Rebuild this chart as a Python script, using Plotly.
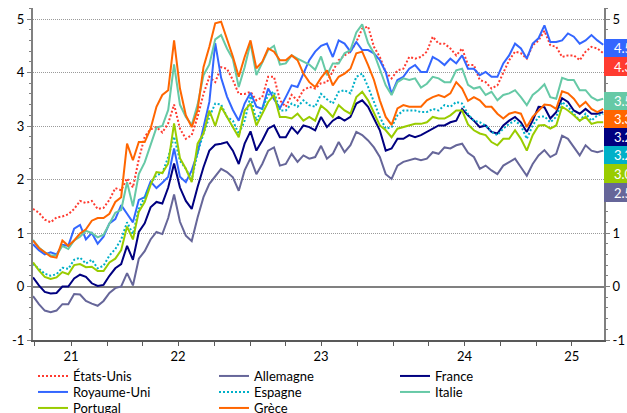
import pandas as pd
import plotly.graph_objects as go

# Dates: one point every 15 days from late June 2021
dates = pd.date_range("2021-06-26", periods=98, freq="15D")

etats_unis = [1.45, 1.38, 1.25, 1.2, 1.29, 1.31, 1.35, 1.45, 1.6, 1.56, 1.6, 1.45, 1.47, 1.62, 1.84, 1.8, 2.02, 1.85, 2.38, 2.8, 2.94, 2.98, 2.88, 3.05, 3.4, 2.95,
              2.76, 2.83, 3.17, 3.6, 3.92, 3.82, 4.1, 4.07, 3.86, 3.6, 3.6, 3.64, 3.48, 3.54, 3.92, 3.92, 3.48, 3.36, 3.58, 3.48, 3.67, 3.73, 3.7, 3.8,
              3.82, 4.04, 4.23, 4.32, 4.39, 4.57, 4.82, 4.86, 4.48, 4.29, 4.01, 3.89, 4.04, 4.07, 4.29, 4.26, 4.29, 4.39, 4.67, 4.54, 4.54, 4.45, 4.32, 4.45, 4.14,
              4.14, 3.86, 3.82, 3.7, 3.76, 3.98, 4.23, 4.39, 4.36, 4.26, 4.51, 4.6, 4.78, 4.51, 4.48, 4.29, 4.32, 4.32, 4.23, 4.39, 4.48, 4.45, 4.36]

royaume_uni = [0.79, 0.68, 0.6, 0.64, 0.6, 0.78, 0.76, 1.08, 1.15, 0.88, 1.0, 0.8, 0.93, 1.18, 1.26, 1.52, 1.36, 1.2, 1.62, 1.67, 1.96, 1.84, 1.94, 2.05, 2.58, 2.05,
               1.95, 2.17, 2.5, 3.0, 3.45, 4.55, 3.9, 3.55, 3.3, 3.1, 3.42, 3.62, 3.36, 3.32, 3.7, 3.5, 3.33, 3.54, 3.76, 3.73, 3.98, 4.23, 4.39, 4.5,
               4.54, 4.29, 4.6, 4.54, 4.39, 4.57, 4.42, 4.42, 4.36, 4.23, 4.01, 3.6, 3.86, 3.92, 4.07, 4.14, 4.01, 4.01, 4.29, 4.23, 4.14, 4.26, 4.17, 4.32, 4.07,
               4.07, 3.95, 4.01, 3.92, 3.92, 4.17, 4.32, 4.54, 4.45, 4.26, 4.54, 4.64, 4.88, 4.57, 4.57, 4.6, 4.73, 4.67, 4.54, 4.6, 4.7, 4.6, 4.52]

allemagne = [-0.18, -0.33, -0.45, -0.48, -0.45, -0.33, -0.33, -0.14, -0.15, -0.27, -0.32, -0.36, -0.27, -0.12, -0.03, 0.0, 0.25, 0.02, 0.52, 0.66, 0.88, 1.02, 0.98, 1.28, 1.72, 1.21,
             0.95, 0.85, 1.29, 1.67, 1.92, 2.05, 2.2, 2.14, 2.04, 1.79, 2.17, 2.4, 2.1, 2.29, 2.54, 2.6, 2.26, 2.29, 2.48, 2.33, 2.45, 2.39, 2.42, 2.63,
             2.39, 2.48, 2.7, 2.51, 2.64, 2.89, 2.83, 2.73, 2.6, 2.42, 2.1, 2.01, 2.26, 2.33, 2.36, 2.39, 2.36, 2.39, 2.51, 2.48, 2.6, 2.58, 2.64, 2.67, 2.5,
             2.42, 2.2, 2.26, 2.17, 2.1, 2.26, 2.33, 2.39, 2.23, 2.07, 2.29, 2.45, 2.55, 2.42, 2.48, 2.82, 2.76, 2.6, 2.45, 2.64, 2.54, 2.51, 2.54]

france = [0.17, 0.02, -0.1, -0.13, -0.12, 0.0, 0.0, 0.15, 0.22, 0.18, 0.06, 0.01, 0.03, 0.2, 0.34, 0.42, 0.76, 0.5, 1.02, 1.18, 1.48, 1.58, 1.55, 1.85, 2.3, 1.85,
          1.6, 1.45, 1.86, 2.23, 2.54, 2.65, 2.67, 2.7, 2.54, 2.29, 2.67, 2.9, 2.54, 2.73, 2.95, 3.01, 2.79, 2.79, 2.98, 2.86, 3.01, 2.98, 2.92, 3.17,
          2.98, 3.1, 3.17, 3.1, 3.17, 3.42, 3.48, 3.36, 3.14, 2.92, 2.54, 2.58, 2.76, 2.76, 2.83, 2.79, 2.83, 2.89, 2.95, 3.01, 3.01, 3.07, 3.1, 3.32, 3.2,
          3.1, 2.98, 3.01, 2.89, 2.86, 3.01, 3.1, 3.17, 3.07, 2.89, 3.1, 3.36, 3.35, 3.14, 3.26, 3.52, 3.45, 3.29, 3.23, 3.32, 3.23, 3.23, 3.26]

espagne = [0.42, 0.33, 0.24, 0.2, 0.23, 0.35, 0.33, 0.5, 0.54, 0.43, 0.5, 0.34, 0.39, 0.58, 0.7, 0.88, 1.2, 0.98, 1.45, 1.67, 1.92, 2.08, 2.12, 2.42, 2.8, 2.35,
           2.2, 2.0, 2.5, 2.86, 3.17, 3.42, 3.4, 3.17, 3.1, 2.85, 3.1, 3.56, 3.1, 3.32, 3.58, 3.64, 3.29, 3.29, 3.42, 3.36, 3.48, 3.39, 3.36, 3.6,
           3.5, 3.42, 3.64, 3.67, 3.61, 3.92, 3.98, 3.73, 3.45, 3.17, 2.95, 2.98, 3.2, 3.29, 3.29, 3.29, 3.26, 3.26, 3.32, 3.29, 3.39, 3.36, 3.45, 3.42, 3.22,
           3.1, 3.07, 3.01, 2.89, 2.83, 2.95, 3.04, 3.1, 3.01, 2.76, 3.01, 3.17, 3.18, 3.07, 3.17, 3.45, 3.36, 3.23, 3.1, 3.23, 3.1, 3.2, 3.23]

italie = [0.87, 0.73, 0.64, 0.58, 0.58, 0.76, 0.7, 0.86, 0.93, 1.04, 1.0, 0.92, 0.97, 1.17, 1.38, 1.43, 1.95, 1.5, 2.1, 2.32, 2.66, 2.97, 3.0, 3.3, 4.15, 3.4,
          3.17, 3.02, 3.4, 3.95, 4.15, 4.62, 4.7, 4.45, 4.25, 3.73, 4.1, 4.55, 3.95, 4.2, 4.42, 4.5, 4.15, 4.17, 4.32, 4.26, 4.2, 4.15, 4.05, 4.3,
          3.95, 4.17, 4.17, 4.36, 4.42, 4.75, 4.9, 4.55, 4.36, 4.07, 3.76, 3.58, 3.82, 3.89, 3.86, 3.89, 3.72, 3.79, 3.92, 3.89, 3.82, 3.82, 4.04, 4.07, 3.77,
          3.7, 3.73, 3.58, 3.64, 3.48, 3.58, 3.61, 3.67, 3.54, 3.39, 3.58, 3.67, 3.78, 3.54, 3.51, 3.9, 3.86, 3.86, 3.67, 3.67, 3.54, 3.48, 3.51]

portugal = [0.45, 0.3, 0.18, 0.14, 0.17, 0.27, 0.23, 0.4, 0.42, 0.36, 0.37, 0.29, 0.29, 0.45, 0.52, 0.68, 1.12, 0.88, 1.4, 1.58, 1.9, 2.14, 2.12, 2.3, 3.05, 2.4,
            2.2, 1.95, 2.67, 2.86, 3.29, 3.0, 3.36, 3.17, 2.98, 2.79, 3.29, 3.42, 3.01, 3.23, 3.45, 3.58, 3.17, 3.17, 3.14, 3.23, 3.1, 3.17, 3.1, 3.38,
            3.29, 3.17, 3.39, 3.29, 3.23, 3.54, 3.64, 3.48, 3.26, 3.01, 2.92, 2.79, 2.95, 2.98, 3.01, 3.04, 3.04, 3.07, 3.17, 3.14, 3.14, 3.2, 3.29, 3.29, 3.03,
            2.92, 2.86, 2.83, 2.7, 2.64, 2.76, 2.76, 2.92, 2.76, 2.54, 2.83, 3.01, 3.02, 2.95, 3.01, 3.36, 3.29, 3.2, 3.1, 3.17, 3.04, 3.07, 3.07]

grece = [0.86, 0.72, 0.64, 0.56, 0.54, 0.86, 0.76, 0.86, 0.99, 1.07, 1.23, 1.28, 1.28, 1.36, 1.58, 1.67, 2.67, 2.36, 2.7, 2.7, 2.95, 3.36, 3.58, 3.67, 4.6, 3.7,
         3.2, 2.98, 3.3, 4.1, 4.48, 4.92, 4.95, 4.62, 4.3, 3.92, 4.29, 4.6, 4.08, 4.2, 4.45, 4.39, 4.23, 4.23, 4.32, 4.23, 3.98, 3.82, 3.73, 3.9,
         4.04, 3.76, 3.92, 3.98, 4.07, 4.36, 4.39, 4.14, 3.86, 3.48, 3.17, 3.02, 3.33, 3.39, 3.36, 3.36, 3.36, 3.48, 3.54, 3.58, 3.54, 3.61, 3.82, 3.7, 3.47,
         3.54, 3.48, 3.36, 3.36, 3.23, 3.14, 3.23, 3.26, 3.23, 2.98, 3.17, 3.29, 3.4, 3.39, 3.32, 3.65, 3.61, 3.51, 3.36, 3.45, 3.32, 3.26, 3.32]

# Last-value labels on the right (text as shown)
etiquettes = ["4.5", "4.3", "3.5", "3.3", "3.2", "3.2", "3.0", "2.5"]

year_ticks = ["2021-10-01", "2022-07-01", "2023-07-01", "2024-07-01", "2025-04-01"]
year_labels = ["21", "22", "23", "24", "25"]

y_ticks = [-1, 0, 1, 2, 3, 4, 5]
y_left_labels = ["-1", "0", "1", "2", "3", "4", "5"]
y_right_labels = ["-1", "0", "1", "", "", "", "5"]  # 2-4 are hidden behind the value boxes

FONT = "Lato, 'Open Sans', sans-serif"

series = [
    ("États-Unis", etats_unis, "#FF3B30", "2px,2px", "legend"),
    ("Allemagne", allemagne, "#666699", "solid", "legend"),
    ("France", france, "#000080", "solid", "legend"),
    ("Royaume-Uni", royaume_uni, "#3366FF", "solid", "legend2"),
    ("Espagne", espagne, "#00B0C8", "2px,2px", "legend2"),
    ("Italie", italie, "#66C9A6", "solid", "legend2"),
    ("Portugal", portugal, "#99CC00", "solid", "legend3"),
    ("Grèce", grece, "#FF6600", "solid", "legend3"),
]

fig = go.Figure()
for i, (name, vals, color, dash, leg) in enumerate(series):
    fig.add_trace(go.Scatter(
        x=dates, y=vals, name=name, mode="lines",
        line=dict(color=color, width=2, dash=dash),
        legend=leg,
        yaxis="y2" if i == len(series) - 1 else "y",
        hoverinfo="skip",
    ))

# right-side value boxes (pixel layout -> paper coords)
W, HT = 627, 413
ML, MR, MT, MB = 33, 23, 8, 73
plot_top, plot_bot = MT, HT - MB
PH = plot_bot - plot_top
PW = W - ML - MR
box_px = [(39, 57), (57, 76), (92, 110), (110, 128), (128, 146), (146, 164), (164, 183), (183, 202)]
box_colors = ["#3366FF", "#FF3B30", "#66C9A6", "#FF6600", "#000080", "#00B0C8", "#99CC00", "#666699"]
shapes = []
annotations = []
for (t, b), col, txt in zip(box_px, box_colors, etiquettes):
    y0 = (plot_bot - b) / PH
    y1 = (plot_bot - t) / PH
    shapes.append(dict(type="rect", xref="paper", yref="paper", x0=1.0, x1=1.06,
                       y0=y0, y1=y1, fillcolor=col, line=dict(width=0), layer="above"))
    annotations.append(dict(xref="paper", yref="paper", x=(612 - ML) / PW, y=(y0 + y1) / 2,
                            xanchor="left", yanchor="middle", showarrow=False, text=txt,
                            font=dict(family=FONT, size=13, color="white")))

yaxis_common = dict(
    range=[-1, 5.206], tickmode="array", tickvals=y_ticks,
    ticks="outside", ticklen=4, tickcolor="#808080", tickwidth=1,
    minor=dict(dtick=0.2, tick0=0, ticks="outside", ticklen=2, tickcolor="#808080", showgrid=False),
    showline=True, linecolor="#808080", linewidth=2,
    tickfont=dict(family=FONT, size=13, color="#000000"),
    automargin=False,
)

fig.update_layout(
    width=W, height=HT,
    margin=dict(l=ML, r=MR, t=MT, b=MB),
    paper_bgcolor="white", plot_bgcolor="white",
    font=dict(family=FONT, size=13, color="#000000"),
    xaxis=dict(
        type="date", range=["2021-06-26", "2025-06-22"],
        tickvals=year_ticks, ticktext=year_labels,
        ticks="outside", ticklen=4, tickcolor="#595959",
        minor=dict(dtick="M3", tick0="2021-07-01", ticks="outside", ticklen=4,
                   tickcolor="#595959", showgrid=False),
        showline=True, linecolor="#595959", linewidth=1.5,
        showgrid=False, zeroline=False,
        tickfont=dict(family=FONT, size=13, color="#000000"),
        automargin=False,
    ),
    yaxis=dict(**yaxis_common, ticktext=y_left_labels,
               showgrid=True, gridcolor="#9A9A9A", griddash="1px,1px", gridwidth=1,
               zeroline=True, zerolinecolor="#808080", zerolinewidth=2),
    yaxis2=dict(**yaxis_common, ticktext=y_right_labels, overlaying="y", side="right",
                showgrid=False, zeroline=False),
    shapes=shapes,
    annotations=annotations,
    showlegend=True,
)

leg_common = dict(orientation="h", xref="paper", x=0, xanchor="left",
                  yref="container", yanchor="middle",
                  entrywidth=136, entrywidthmode="pixels", itemwidth=30,
                  bgcolor="rgba(0,0,0,0)", font=dict(family=FONT, size=13, color="#000000"),
                  tracegroupgap=0)
fig.update_layout(
    legend=dict(**leg_common, y=1 - 376 / HT),
    legend2=dict(**leg_common, y=1 - 392 / HT),
    legend3=dict(**leg_common, y=1 - 408 / HT),
)

# remove the default 8px page margin so the figure fills the 627x413 window exactly
fig.write_html("out.html", config={"displayModeBar": False},
               post_script="document.body.style.margin='0';document.body.style.overflow='hidden';")
